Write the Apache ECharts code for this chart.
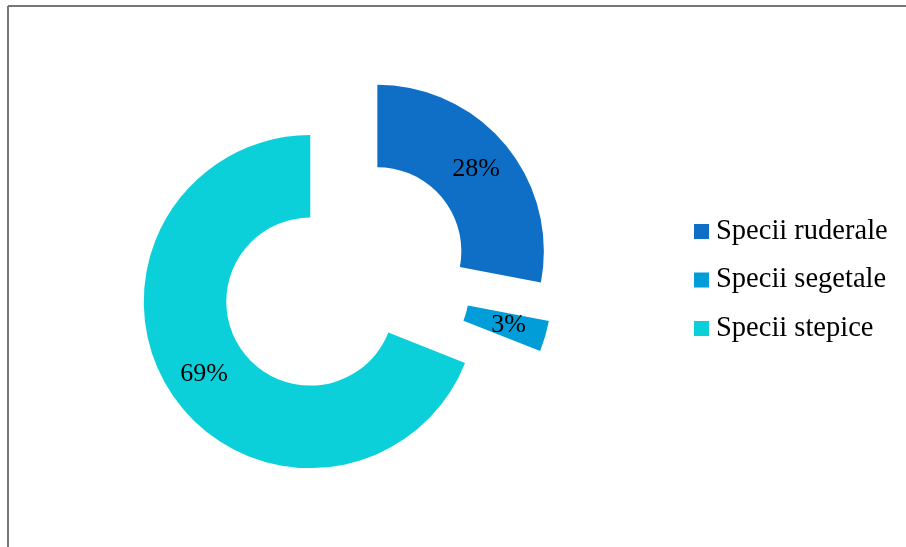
<!DOCTYPE html>
<html>
<head>
<meta charset="utf-8">
<script src="https://cdn.jsdelivr.net/npm/echarts@6/dist/echarts.min.js"></script>
<style>
html,body{margin:0;padding:0;background:#fff;}
#chart{width:906px;height:547px;}
</style>
</head>
<body>
<div id="chart"></div>
<script>
const categories = ["Specii ruderale", "Specii segetale", "Specii stepice"];
const values = [28, 3, 69];
const colors = ["#0F6FC6", "#009DD9", "#0BD0D9"];

const chart = echarts.init(document.getElementById('chart'), null, {renderer: 'canvas'});
const data = categories.map((name, i) => ({
  name: name,
  value: values[i],
  selected: true,
  itemStyle: {color: colors[i]}
}));

chart.setOption({
  backgroundColor: '#ffffff',
  animation: false,
  graphic: [
    {type: 'line', shape: {x1: 8, y1: 6, x2: 906, y2: 6}, style: {stroke: '#767676', lineWidth: 2}},
    {type: 'line', shape: {x1: 8, y1: 6, x2: 8, y2: 547}, style: {stroke: '#767676', lineWidth: 2}}
  ],
  legend: {
    orient: 'vertical',
    left: 694,
    top: 217,
    padding: 0,
    itemWidth: 15,
    itemHeight: 15,
    itemGap: 19.5,
    icon: 'rect',
    selectedMode: false,
    data: categories,
    textStyle: {
      fontFamily: 'Liberation Serif',
      fontSize: 28.5,
      color: '#000',
      lineHeight: 28,
      padding: [0, 0, 0, 2]
    }
  },
  series: [{
    type: 'pie',
    center: [345, 278],
    radius: [84, 166.5],
    startAngle: 90,
    clockwise: true,
    selectedMode: 'multiple',
    selectedOffset: 42,
    avoidLabelOverlap: false,
    label: {
      show: true,
      position: 'inside',
      formatter: '{c}%',
      fontFamily: 'Liberation Serif',
      fontSize: 26,
      color: '#000',
      offset: [0, 4]
    },
    labelLine: {show: false},
    emphasis: {disabled: true},
    select: {itemStyle: {borderWidth: 0}},
    data: data
  }]
});
</script>
</body>
</html>
